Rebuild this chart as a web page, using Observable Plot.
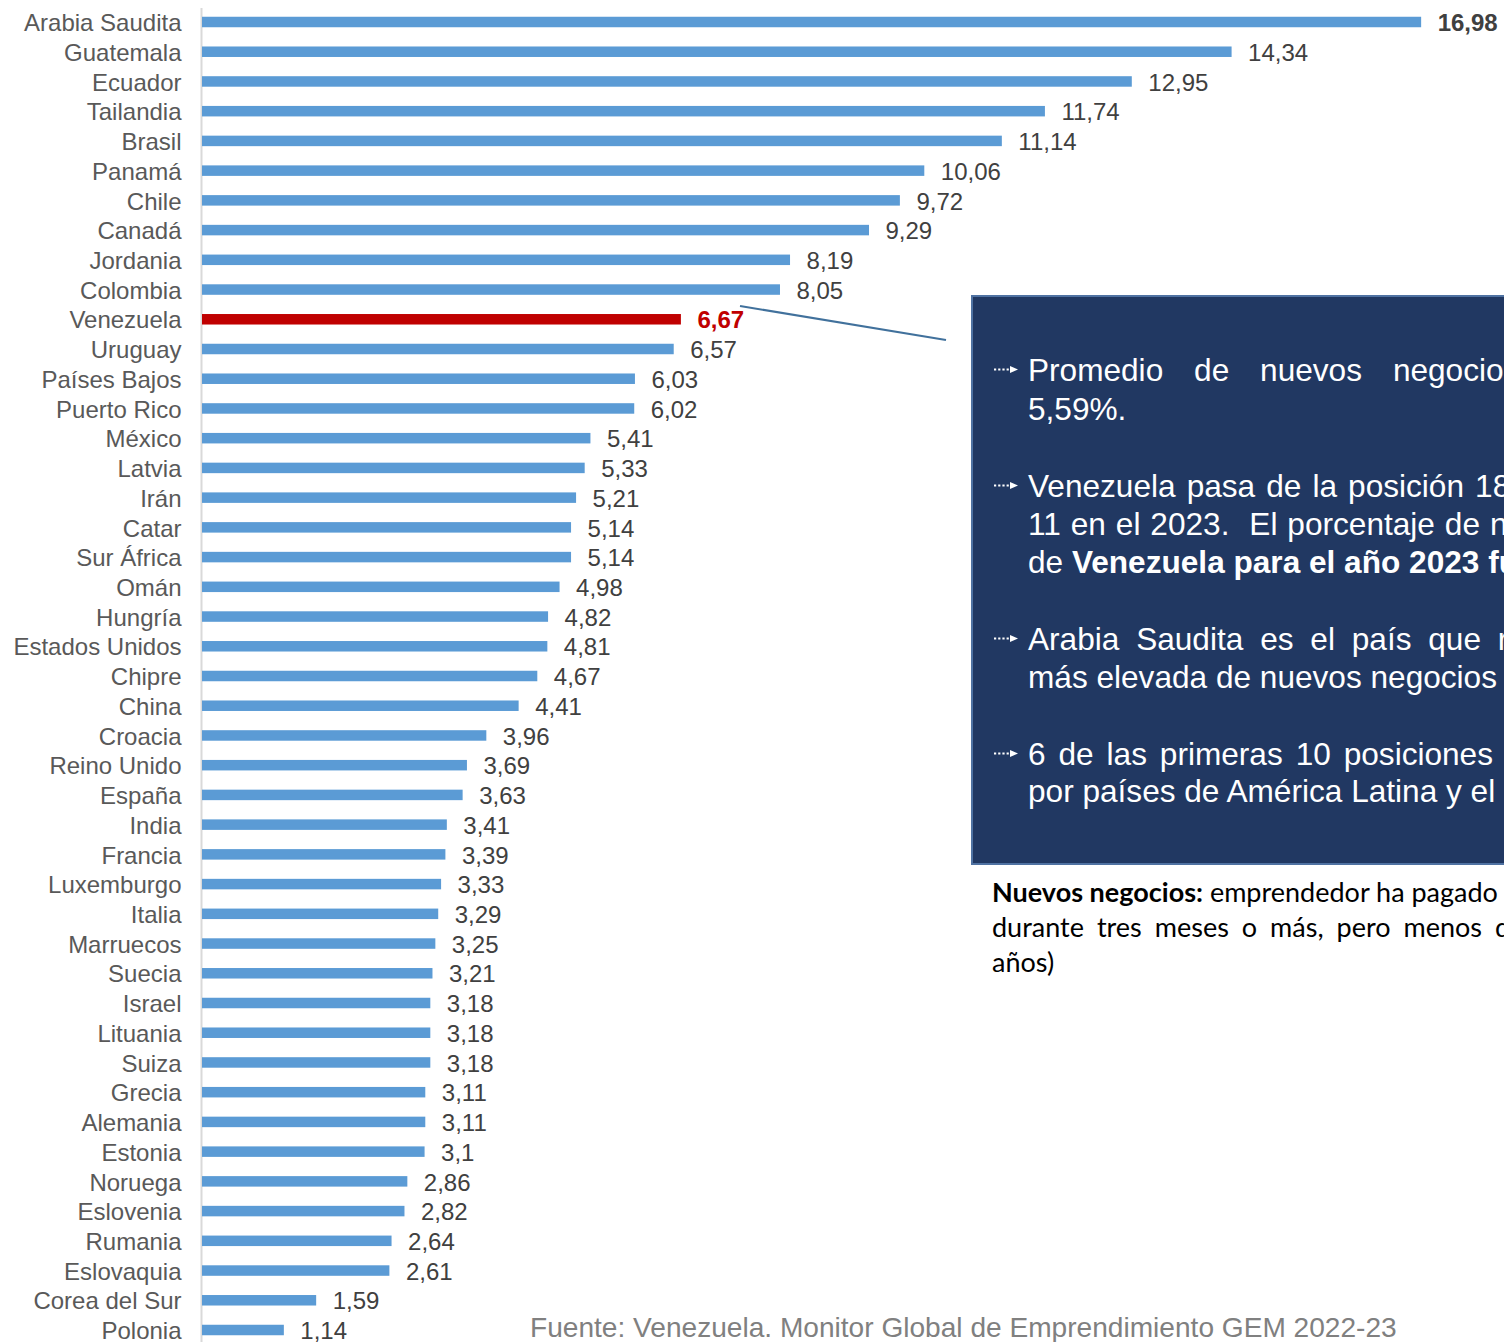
<!DOCTYPE html>
<html><head><meta charset="utf-8">
<script src="https://cdn.jsdelivr.net/npm/d3@7"></script>
<script src="https://cdn.jsdelivr.net/npm/@observablehq/plot@0.6"></script>
<style>
html,body{margin:0;padding:0;background:#fff;overflow:hidden}
#wrap{position:relative;width:1504px;height:1342px;overflow:hidden}
#ann{position:absolute;left:0;top:0}
</style></head><body><div id="wrap"></div>
<script>
const countries = ["Arabia Saudita","Guatemala","Ecuador","Tailandia","Brasil","Panamá","Chile","Canadá","Jordania","Colombia","Venezuela","Uruguay","Países Bajos","Puerto Rico","México","Latvia","Irán","Catar","Sur África","Omán","Hungría","Estados Unidos","Chipre","China","Croacia","Reino Unido","España","India","Francia","Luxemburgo","Italia","Marruecos","Suecia","Israel","Lituania","Suiza","Grecia","Alemania","Estonia","Noruega","Eslovenia","Rumania","Eslovaquia","Corea del Sur","Polonia"];
const values = [16.98,14.34,12.95,11.74,11.14,10.06,9.72,9.29,8.19,8.05,6.67,6.57,6.03,6.02,5.41,5.33,5.21,5.14,5.14,4.98,4.82,4.81,4.67,4.41,3.96,3.69,3.63,3.41,3.39,3.33,3.29,3.25,3.21,3.18,3.18,3.18,3.11,3.11,3.1,2.86,2.82,2.64,2.61,1.59,1.14];
const highlight = "Venezuela";
const leaderCountry = "Arabia Saudita";
const sourceText = "Fuente: Venezuela. Monitor Global de Emprendimiento GEM 2022-23";

const data = countries.map((c, i) => ({country: c, value: values[i]}));
const fmt = v => String(v).replace(".", ",");
const isBold = d => d.country === highlight || d.country === leaderCountry;

const step = 29.73;
const chart = Plot.plot({
  width: 1504, height: 1342,
  marginLeft: 202, marginRight: 0, marginTop: 8, marginBottom: 0,
  style: {fontFamily: "'Liberation Sans', Arial, sans-serif", color: "#595959", background: "transparent"},
  color: {type: "identity"},
  x: {domain: [0, 18.134], axis: null},
  y: {domain: countries, range: [22 - step / 2, 1330 + step / 2], paddingInner: 0.647, paddingOuter: 0.3235, label: null},
  marks: [
    Plot.ruleX([0], {stroke: "#d9d9d9", strokeWidth: 2, dx: -1}),
    Plot.barX(data, {y: "country", x: "value", fill: d => d.country === highlight ? "#c00000" : "#5b9bd5"}),
    Plot.axisY({tickSize: 0, tickPadding: 21, fontSize: 24, dy: 1, label: null}),
    Plot.text(data.filter(d => !isBold(d)), {y: "country", x: "value", text: d => fmt(d.value), textAnchor: "start", dx: 16, dy: 1, fontSize: 24, fill: "#404040"}),
    Plot.text(data.filter(isBold), {y: "country", x: "value", text: d => fmt(d.value), textAnchor: "start", dx: 16, dy: 1, fontSize: 24, fontWeight: "bold", fill: d => d.country === highlight ? "#c00000" : "#404040"})
  ]
});
const wrap = document.getElementById("wrap");
wrap.appendChild(chart);

// ---- annotation overlay ----
const svg = d3.select(wrap).append("svg").attr("id", "ann").attr("width", 1504).attr("height", 1342);
svg.append("line").attr("x1", 740).attr("y1", 306).attr("x2", 946).attr("y2", 340)
  .attr("stroke", "#41719c").attr("stroke-width", 2);
svg.append("rect").attr("x", 972).attr("y", 296).attr("width", 700).attr("height", 568)
  .attr("fill", "#213862").attr("stroke", "#4f72a2").attr("stroke-width", 2);

const boxFont = "'Liberation Sans', Arial, sans-serif";
const boxLines = [
  {y: 381, bullet: true, parts: [["Promedio de nuevos", false]], rest: " negocios en los países GEM:", end: 1362},
  {y: 420, parts: [["5,59%.", false]]},
  {y: 497, bullet: true, parts: [["Venezuela pasa de la posición", false]], rest: " 18 en el 2022 a la posición", end: 1464},
  {y: 535, parts: [["11 en el 2023.  El porcentaje de", false]], rest: " nuevos negocios", end: 1480},
  {y: 573, parts: [["de ", false], ["Venezuela para el año 2023 fue de 6,67%.", true]]},
  {y: 650, bullet: true, parts: [["Arabia Saudita es el país que", false]], rest: " registra la tasa", end: 1481},
  {y: 688, parts: [["más elevada de nuevos negocios", false]], rest: " en el 2023."},
  {y: 765, bullet: true, parts: [["6 de las primeras 10 posiciones", false]], rest: " son ocupadas", end: 1493},
  {y: 802, parts: [["por países de América Latina y el", false]], rest: " Caribe."}
];
const noteLines = [
  {y: 902, parts: [["Nuevos negocios:", true], [" emprendedor ha", false]], rest: " pagado salarios", end: 1404},
  {y: 937, parts: [["durante tres meses o más, pero menos", false]], rest: " de 42 meses (3,5", end: 1482},
  {y: 972, parts: [["años)", false]]}
];

function drawLine(spec, x, font, size, fill) {
  const t = svg.append("text").attr("x", x).attr("y", spec.y)
    .attr("font-family", font).attr("font-size", size).attr("fill", fill)
    .style("white-space", "pre");
  spec.parts.forEach(([s, b]) => t.append("tspan").attr("font-weight", b ? "bold" : "normal").text(s));
  if (spec.end) {
    const w = t.node().getComputedTextLength();
    const visible = spec.parts.map(p => p[0]).join("");
    const n = (visible.match(/ /g) || []).length;
    const ws = Math.max(0, (spec.end - x - w) / n);
    t.style("word-spacing", ws + "px");
  }
  if (spec.rest) t.append("tspan").text(spec.rest);
}
function arrow(y) {
  const cy = y - 11.5;
  svg.append("line").attr("x1", 994).attr("x2", 1011).attr("y1", cy).attr("y2", cy)
    .attr("stroke", "#fff").attr("stroke-width", 2).attr("stroke-dasharray", "2.2,2");
  svg.append("path").attr("d", `M1010,${cy - 3.5}L1018,${cy}L1010,${cy + 3.5}Z`).attr("fill", "#fff");
}
boxLines.forEach(l => { drawLine(l, 1028, boxFont, 31.6, "#ffffff"); if (l.bullet) arrow(l.y); });
noteLines.forEach(l => drawLine(l, 992, "Lato, 'Open Sans', sans-serif", 27, "#000000"));

svg.append("text").attr("x", 530).attr("y", 1337).attr("font-family", boxFont)
  .attr("font-size", 28.1).attr("fill", "#808080").text(sourceText);
</script></body></html>
